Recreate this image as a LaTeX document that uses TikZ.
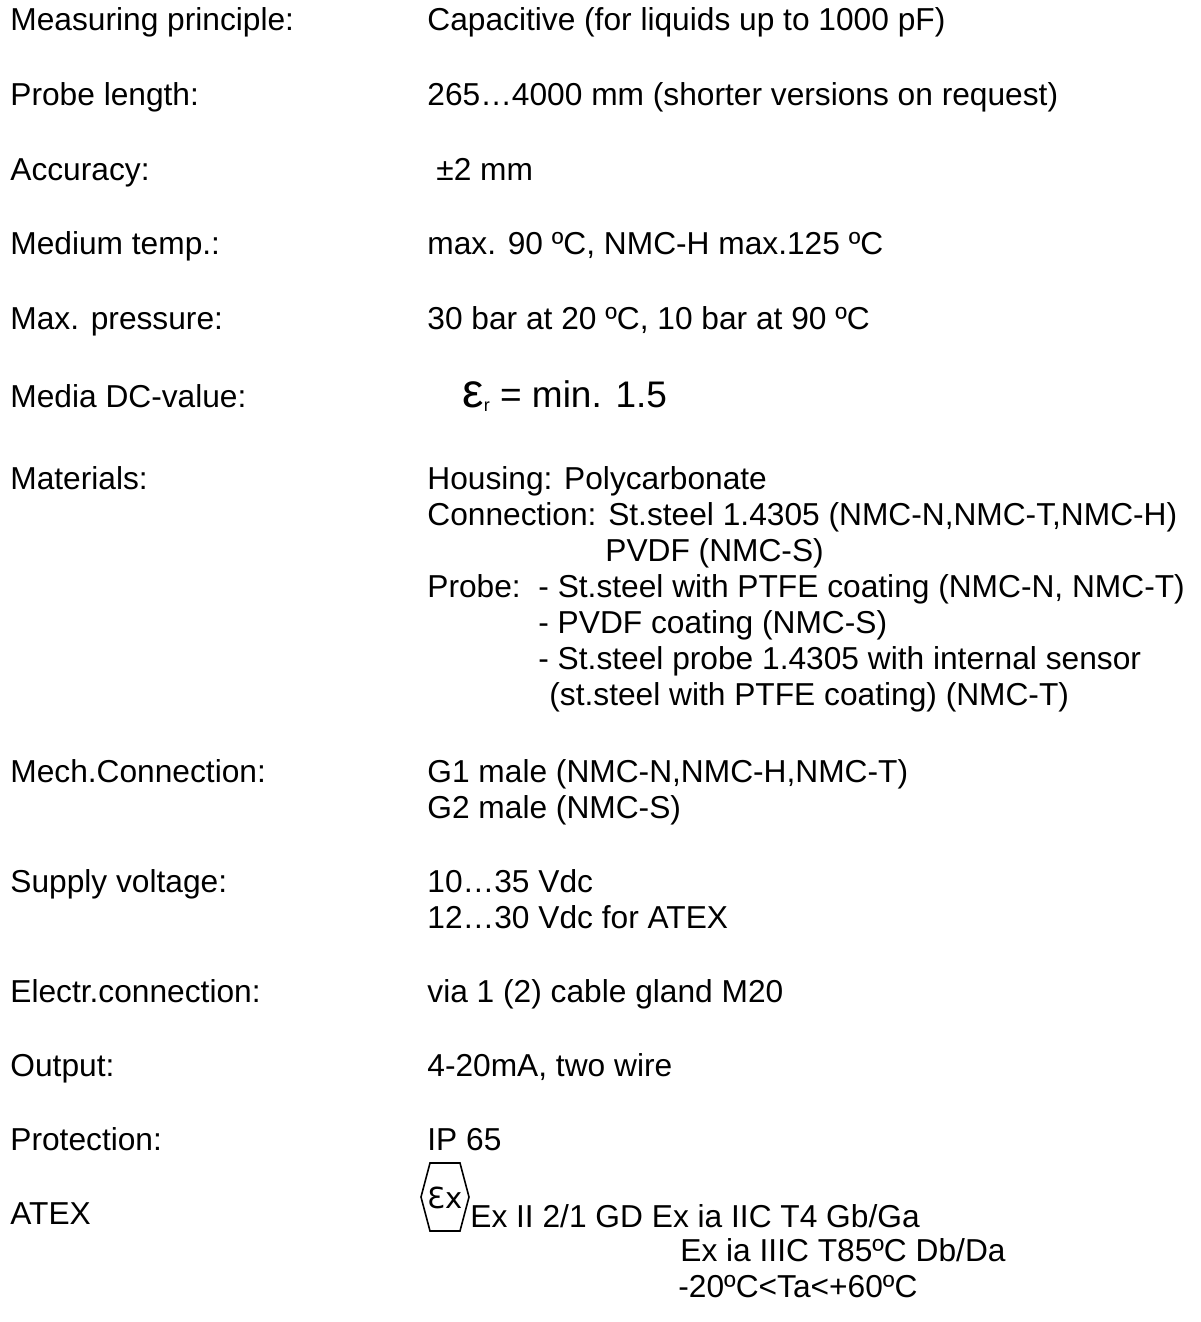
\documentclass[tikz,border=0pt]{standalone}
\usepackage{fontspec}
\setmainfont{Liberation Sans}
\newfontfamily\dejavu{DejaVu Sans}
\newcommand\txtf{\fontsize{15.85pt}{18pt}\selectfont}
\newcommand\bigf{\fontsize{18.5pt}{21pt}\selectfont}
\tikzset{
  lab/.style={anchor=base west, inner sep=0pt, font=\txtf},
  val/.style={anchor=base west, inner sep=0pt, font=\txtf},
  exhex/.style={draw=black, line width=0.8pt, line join=miter}
}
\begin{document}
\begin{tikzpicture}[x=0.5pt,y=-0.5pt]
\fill[white] (0,0) rectangle (1200,1322);
\useasboundingbox (0,0) rectangle (1200,1322);
% rows
\node[lab] (l1) at (10,31) {Measuring principle:};
\node[val] (v1) at (427,31) {Capacitive (for liquids up to 1000 pF)};
\node[lab] (l2) at (10,105.5) {Probe length:};
\node[val] (v2) at (427,105.5) {265…4000 mm (shorter versions on request)};
\node[lab] (l3) at (10,180) {Accuracy:};
\node[val] (v3) at (436,180) {±2 mm};
\node[lab] (l4) at (10,254.5) {Medium temp.:};
\node[val] (v4) at (427,254.5) {max. 90 ºC, NMC-H max.125 ºC};
\node[lab] (l5) at (10,329) {Max. pressure:};
\node[val] (v5) at (427,329) {30 bar at 20 ºC, 10 bar at 90 ºC};
\node[lab] (l6) at (10,407) {Media DC-value:};
\node[val, font=\bigf] (v6) at (462,407) {{\fontsize{24pt}{24pt}\selectfont ε}\raisebox{-2pt}{\fontsize{9pt}{9pt}\selectfont r} = min. 1.5};
\node[lab] (l7) at (10,489) {Materials:};
\node[val] (v7a) at (427,489) {Housing: Polycarbonate};
\node[val] (v7b) at (427,525) {Connection: St.steel 1.4305 (NMC-N,NMC-T,NMC-H)};
\node[val] (v7c) at (605,561) {PVDF (NMC-S)};
\node[val] (v7d) at (427,597) {Probe:\ \ - St.steel with PTFE coating (NMC-N, NMC-T)};
\node[val] (v7e) at (538,633) {- PVDF coating (NMC-S)};
\node[val] (v7f) at (538,669) {- St.steel probe 1.4305 with internal sensor};
\node[val] (v7g) at (549,705) {(st.steel with PTFE coating) (NMC-T)};
\node[lab] (l8) at (10,782) {Mech.Connection:};
\node[val] (v8a) at (427,782) {G1 male (NMC-N,NMC-H,NMC-T)};
\node[val] (v8b) at (427,818) {G2 male (NMC-S)};
\node[lab] (l9) at (10,892) {Supply voltage:};
\node[val] (v9a) at (427,892) {10…35 Vdc};
\node[val] (v9b) at (427,928) {12…30 Vdc for ATEX};
\node[lab] (l10) at (10,1002) {Electr.connection:};
\node[val] (v10) at (427,1002) {via 1 (2) cable gland M20};
\node[lab] (l11) at (10,1076) {Output:};
\node[val] (v11) at (427,1076) {4-20mA, two wire};
\node[lab] (l12) at (10,1150) {Protection:};
\node[val] (v12) at (427,1150) {IP 65};
\node[lab] (l13) at (10,1224) {ATEX};
% Ex symbol
\draw[exhex] (421,1197) -- (430,1163) -- (460,1163) -- (469,1197) -- (460,1231) -- (430,1231) -- cycle;
\node[inner sep=0pt, anchor=base, font=\dejavu\fontsize{14.5pt}{15pt}\selectfont] (exs) at (445,1208) {Ɛx};
\node[val] (v13a) at (470,1227) {Ex II 2/1 GD Ex ia IIC T4 Gb/Ga};
\node[val] (v13b) at (680,1261) {Ex ia IIIC T85ºC Db/Da};
\node[val] (v13c) at (678,1297) {-20ºC<Ta<+60ºC};
\end{tikzpicture}
\end{document}
